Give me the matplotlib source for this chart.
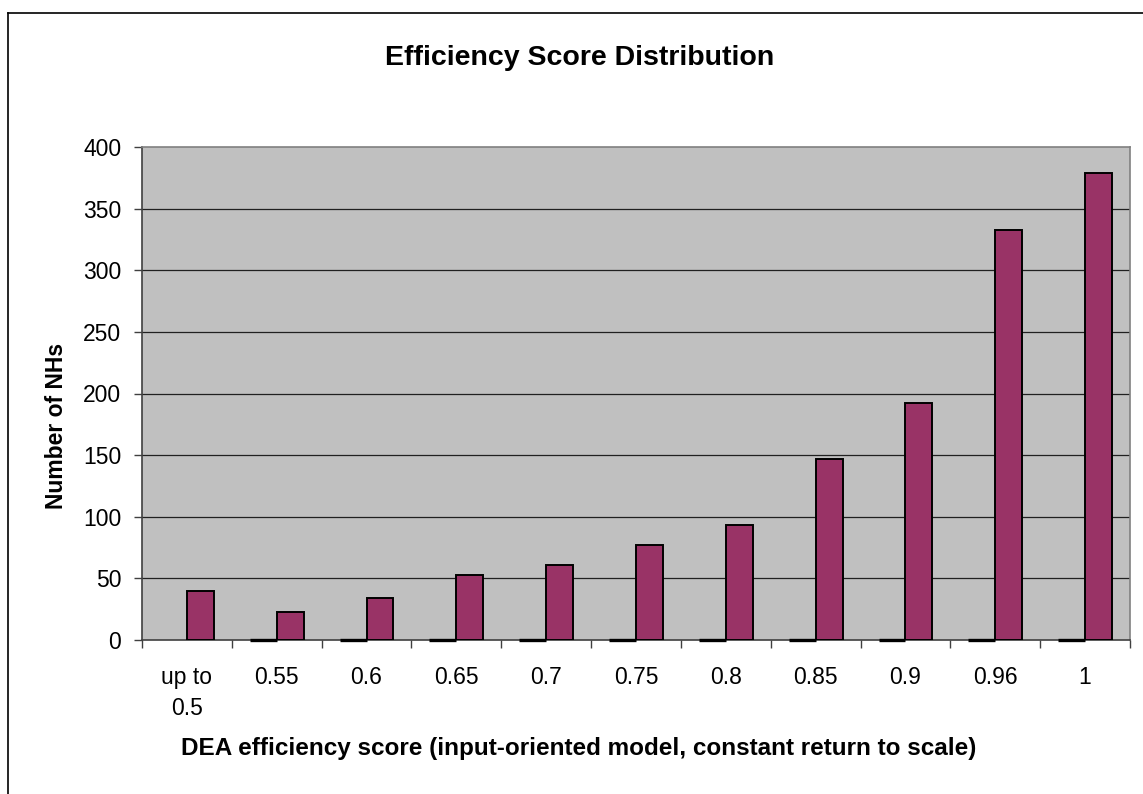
import numpy as np
import matplotlib
matplotlib.use("Agg")
import matplotlib.pyplot as plt
from matplotlib.lines import Line2D

plt.rcParams['font.family'] = ['Liberation Sans', 'DejaVu Sans']

## Données
categories = ["up to\n0.5", "0.55", "0.6", "0.65", "0.7", "0.75",
              "0.8", "0.85", "0.9", "0.96", "1"]
serie_vide = [np.nan, 0, 0, 0, 0, 0, 0, 0, 0, 0, 0]   # série à zéro (trait noir)
nb_NH = [40, 23, 34, 53, 61, 77, 93, 147, 192, 333, 379]
yticks = [0, 50, 100, 150, 200, 250, 300, 350, 400]

x = np.arange(len(categories))
larg = 0.30

fig = plt.figure(figsize=(11.43, 7.94), dpi=100)
ax = fig.add_axes([142/1143, 1-640/794, (1130-142)/1143, (640-147)/794])
ax.set_facecolor('#c0c0c0')

# grille horizontale
for v in yticks[1:-1]:
    ax.axhline(v, color='#202020', lw=0.9, zorder=1)

vides = ax.bar(x - larg/2, serie_vide, width=larg, color='#000000',
               edgecolor='black', lw=2.4, zorder=4)
for b in vides:
    b.set_clip_on(False)
ax.bar(x + larg/2, nb_NH, width=larg, color='#993366',
       edgecolor='black', lw=1.4, zorder=3)

ax.set_xlim(-0.5, len(categories) - 0.5)
ax.set_ylim(0, 400)

# axes
ax.set_yticks(yticks)
ax.set_yticklabels([str(v) for v in yticks], fontsize=16.5)
ax.tick_params(axis='y', direction='out', length=6, width=1, color='#404040', pad=9)

ax.set_xticks(x)
ax.set_xticklabels(categories, fontsize=16.5, linespacing=1.45)
ax.tick_params(axis='x', which='major', length=0, pad=19)
ax.set_xticks(np.arange(len(categories) + 1) - 0.5, minor=True)
ax.tick_params(axis='x', which='minor', direction='out', length=6, width=1, color='#404040')

for s in ['top', 'right']:
    ax.spines[s].set_color('#808080')
    ax.spines[s].set_linewidth(1.2)
for s in ['left', 'bottom']:
    ax.spines[s].set_color('#404040')
    ax.spines[s].set_linewidth(1.2)

# textes
fig.text(580/1143, 1-58/794, "Efficiency Score Distribution", fontsize=20.5,
         fontweight='bold', ha='center', va='center')
fig.text(579/1143, 1-748/794,
         "DEA efficiency score (input-oriented model, constant return to scale)",
         fontsize=17.5, fontweight='bold', ha='center', va='center')
fig.text(57/1143, 1-426/794, "Number of NHs", fontsize=16.5, fontweight='bold',
         rotation=90, ha='center', va='center')

# cadre du graphique (gauche et haut)
fig.add_artist(Line2D([8/1143, 8/1143], [0, 1-13/794], color='black', lw=1.2))
fig.add_artist(Line2D([8/1143, 1], [1-13/794, 1-13/794], color='black', lw=1.2))

fig.savefig("out.png", dpi=100)
